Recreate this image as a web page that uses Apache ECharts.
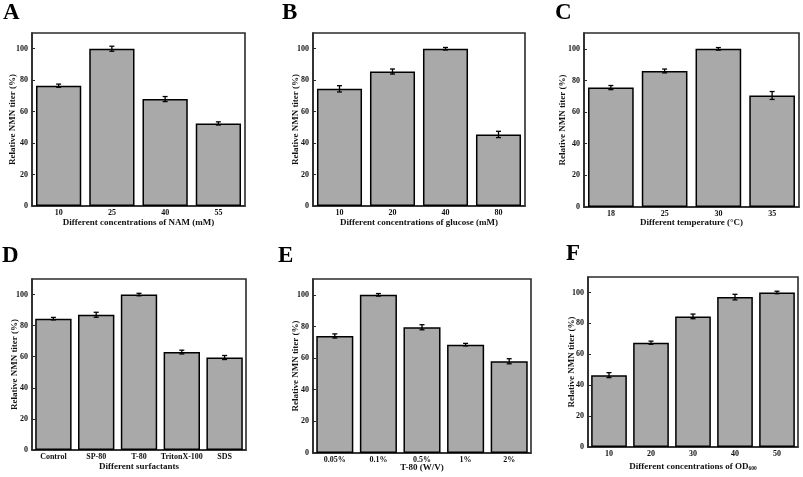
<!DOCTYPE html>
<html>
<head>
<meta charset="utf-8">
<script src="https://cdn.jsdelivr.net/npm/echarts@6/dist/echarts.min.js"></script>
<style>html,body{margin:0;padding:0;background:#fff;}#c{width:803px;height:477px;}</style>
</head>
<body>
<div id="c"></div>
<script>
// ---- data ----
const catsA = ['10', '25', '40', '55'];
const valsA = [76.5, 100, 68, 52.5];
const errA  = [1.0, 1.6, 1.6, 1.0];

const catsB = ['10', '20', '40', '80'];
const valsB = [74.5, 85.5, 100, 45.5];
const errB  = [2.0, 1.6, 0.8, 2.0];

const catsC = ['18', '25', '30', '35'];
const valsC = [75.5, 86, 100, 70.5];
const errC  = [1.3, 1.2, 0.8, 2.5];

const catsD = ['Control', 'SP-80', 'T-80', 'TritonX-100', 'SDS'];
const valsD = [84.5, 87, 100, 63, 59.5];
const errD  = [0.8, 1.6, 0.8, 1.2, 1.3];

const catsE = ['0.05%', '0.1%', '0.5%', '1%', '2%'];
const valsE = [74, 100, 79.5, 68.5, 58];
const errE  = [1.3, 0.8, 1.6, 0.8, 1.6];

const catsF = ['10', '20', '30', '40', '50'];
const valsF = [46.5, 67.5, 84.5, 97, 100];
const errF  = [1.6, 1.0, 1.5, 1.8, 0.8];

const yTicks = [0, 20, 40, 60, 80, 100];
const yName = 'Relative NMN titer (%)';

const panels = [
  {letter: 'A', cats: catsA, vals: valsA, errs: errA, xname: 'Different concentrations of NAM (mM)'},
  {letter: 'B', cats: catsB, vals: valsB, errs: errB, xname: 'Different concentrations of glucose (mM)'},
  {letter: 'C', cats: catsC, vals: valsC, errs: errC, xname: 'Different temperature (\u00B0C)'},
  {letter: 'D', cats: catsD, vals: valsD, errs: errD, xname: 'Different surfactants'},
  {letter: 'E', cats: catsE, vals: valsE, errs: errE, xname: 'T-80 (W/V)'},
  {letter: 'F', cats: catsF, vals: valsF, errs: errF, xname: 'Different concentrations of OD{sub|600}'}
];

// ---- layout ----
const layout = [
  {grid: {left: 32, top: 33, width: 213, height: 173}, xGap: 12, yGap: 14.5, lx: 3,   ly: 2},
  {grid: {left: 313, top: 33, width: 212, height: 173}, xGap: 12, yGap: 13, lx: 282, ly: 2},
  {grid: {left: 584, top: 33, width: 215, height: 174}, xGap: 11, yGap: 16.5, lx: 555, ly: 2},
  {grid: {left: 32, top: 279, width: 214, height: 171}, xGap: 12, yGap: 12.5, lx: 2,   ly: 245},
  {grid: {left: 313, top: 279, width: 218, height: 174}, xGap: 10, yGap: 13, lx: 278, ly: 245},
  {grid: {left: 588, top: 277, width: 210, height: 170}, xGap: 14, yGap: 12, lx: 566, ly: 243}
];

const FONT = '"Liberation Serif", "Times New Roman", serif';
const AXC = '#2b2b2b';

const option = {
  backgroundColor: '#ffffff',
  animation: false,
  grid: [], xAxis: [], yAxis: [], series: [], graphic: []
};

panels.forEach((p, i) => {
  const L = layout[i];
  option.grid.push(Object.assign({show: true, borderColor: AXC, borderWidth: 1.6, backgroundColor: 'transparent'}, L.grid));
  option.xAxis.push({
    type: 'category', gridIndex: i, data: p.cats,
    name: p.xname, nameLocation: 'middle', nameGap: L.xGap, nameMoveOverlap: false,
    nameTextStyle: {fontFamily: FONT, fontWeight: 'bold', fontSize: 9, color: '#111',
      rich: {sub: {fontFamily: FONT, fontWeight: 'bold', fontSize: 5.5, color: '#111', padding: [5, 0, 0, 0]}}},
    axisLine: {show: true, lineStyle: {color: AXC, width: 1.6}},
    axisTick: {show: true, inside: true, alignWithLabel: true, length: 3, lineStyle: {color: AXC, width: 1}},
    axisLabel: {fontFamily: FONT, fontWeight: 'bold', fontSize: 8, color: '#111', margin: 3, interval: 0},
    splitLine: {show: false}
  });
  option.yAxis.push({
    type: 'value', gridIndex: i, min: 0, max: 110, interval: 20,
    name: yName, nameLocation: 'middle', nameGap: L.yGap, nameMoveOverlap: false,
    nameTextStyle: {fontFamily: FONT, fontWeight: 'bold', fontSize: 9, color: '#111'},
    axisLine: {show: true, lineStyle: {color: AXC, width: 1.6}},
    axisTick: {show: true, inside: true, length: 3, lineStyle: {color: AXC, width: 1}},
    axisLabel: {fontFamily: FONT, fontWeight: 'bold', fontSize: 8, color: '#111', margin: 4,
      showMaxLabel: false,
      formatter: v => (yTicks.indexOf(v) >= 0 ? String(v) : '')},
    splitLine: {show: false}
  });
  option.series.push({
    type: 'bar', xAxisIndex: i, yAxisIndex: i, data: p.vals,
    barCategoryGap: '15%',
    itemStyle: {color: '#a9a9a9', borderColor: '#000', borderWidth: 1.5},
    z: 2
  });
  option.series.push({
    type: 'custom', xAxisIndex: i, yAxisIndex: i,
    data: p.vals.map((v, k) => [k, v, p.errs[k]]),
    encode: {x: 0, y: 1},
    z: 5,
    renderItem: function (params, api) {
      const x = api.value(0), y = api.value(1), e = api.value(2);
      const top = api.coord([x, y + e]);
      const bot = api.coord([x, y - e]);
      const hw = 2.5;
      const st = {stroke: '#000', lineWidth: 1.3};
      return {type: 'group', children: [
        {type: 'line', shape: {x1: top[0], y1: top[1], x2: bot[0], y2: bot[1]}, style: st},
        {type: 'line', shape: {x1: top[0] - hw, y1: top[1], x2: top[0] + hw, y2: top[1]}, style: st},
        {type: 'line', shape: {x1: bot[0] - hw, y1: bot[1], x2: bot[0] + hw, y2: bot[1]}, style: st}
      ]};
    }
  });
  option.graphic.push({
    type: 'text', left: L.lx, top: L.ly,
    style: {text: p.letter, fontFamily: FONT, fontWeight: 'bold', fontSize: 23, fill: '#000'}
  });
});

const chart = echarts.init(document.getElementById('c'), null, {renderer: 'canvas'});
chart.setOption(option);
</script>
</body>
</html>
